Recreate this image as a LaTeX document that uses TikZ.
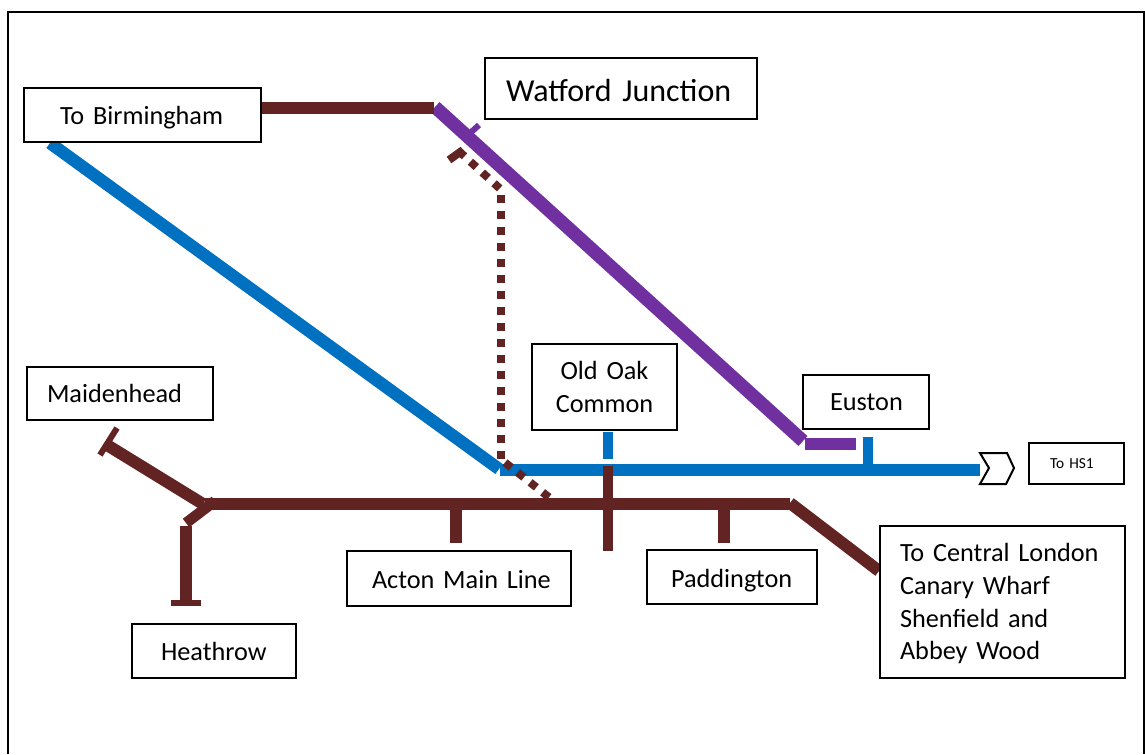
\documentclass[tikz,border=0pt]{standalone}
\usepackage{fontspec}
\setmainfont{Carlito}
\definecolor{railbrown}{HTML}{622423}
\definecolor{railblue}{HTML}{0070C0}
\definecolor{railpurple}{HTML}{7030A0}
\newcommand{\lowertext}[1]{\rule{0pt}{#1}}
\tikzset{
  stn/.style n args={3}{draw=black, line width=1.5pt, inner xsep=0pt, inner ysep=0pt,
    text width=#1*0.75pt, minimum height=#2*0.75pt, align=left, fill=white,
    execute at begin node={\leftskip=0.75\dimexpr #3pt\relax},
    font=\fontsize{19.7}{24.5}\selectfont},
  brownline/.style={draw=railbrown, line width=9pt},
  blueline/.style={draw=railblue, line width=9.3pt},
  purpleline/.style={draw=railpurple, line width=10pt},
  tickline/.style={line width=4.5pt},
  dotline/.style={draw=railbrown, line width=6pt, dash pattern=on 6pt off 6pt},
}
\begin{document}
\begin{tikzpicture}[x=0.75pt,y=-0.75pt]
\useasboundingbox (0,0) rectangle (1145,754);
\draw[line width=1.5pt] (8,754) -- (8,12) -- (1144,12) -- (1144,754);

% coordinates (free ends)
\coordinate (bhamEnd) at (50,143);
\coordinate (blueKnee) at (499,469);
\coordinate (blueStart) at (500,469.5);
\coordinate (blueEnd) at (980,469.5);
\coordinate (bhamRail) at (255,108);
\coordinate (topRail) at (434,108);
\coordinate (purpleTop) at (435,107);
\coordinate (purpleEnd) at (803,441);
\coordinate (eustonA) at (805,444);
\coordinate (eustonB) at (856,444);
\coordinate (eustonC) at (868,437);
\coordinate (eustonD) at (868,466);
\coordinate (oakA) at (608,432);
\coordinate (oakB) at (608,459);
\coordinate (oakC) at (608,466);
\coordinate (oakD) at (608,551);
\coordinate (mainL) at (205,504);
\coordinate (mainR) at (790,504);
\coordinate (clEnd) at (879,571);
\coordinate (clStart) at (790,503);
\coordinate (maidEnd) at (107,445);
\coordinate (maidJ) at (203,504);
\coordinate (maidT1) at (100,455);
\coordinate (maidT2) at (117,428);
\coordinate (hJ) at (215,501);
\coordinate (hK) at (186,523);
\coordinate (hTop) at (186,526);
\coordinate (hBot) at (186,601);
\coordinate (hT1) at (171,603);
\coordinate (hT2) at (201,603);
\coordinate (acA) at (456,508);
\coordinate (acB) at (456,543);
\coordinate (paA) at (724,508);
\coordinate (paB) at (724,543);
\coordinate (wjA) at (468,135);
\coordinate (wjB) at (479,125);
\coordinate (dT1) at (449,160);
\coordinate (dT2) at (463,150);
\coordinate (dA) at (458.6,150.9);
\coordinate (dB) at (499.7,188.4);
\coordinate (dC) at (500.5,195);
\coordinate (dD) at (500.5,459);
\coordinate (dE) at (505,462.5);
\coordinate (dF) at (549.2,497.5);

% blue
\draw[blueline] (bhamEnd) -- (blueKnee);
\draw[blueline, line width=9pt] (blueStart) -- (blueEnd);
\draw[blueline, line width=8pt] (oakA) -- (oakB);
\draw[blueline, line width=8pt] (eustonC) -- (eustonD);

% purple
\draw[purpleline] (purpleTop) -- (purpleEnd);
\draw[purpleline, line width=8.5pt] (eustonA) -- (eustonB);
\draw[draw=railpurple, tickline] (wjA) -- (wjB);

% brown
\draw[brownline] (bhamRail) -- (topRail);
\draw[brownline] (mainL) -- (mainR);
\draw[brownline] (clStart) -- (clEnd);
\draw[brownline] (maidEnd) -- (maidJ);
\draw[draw=railbrown, tickline] (maidT1) -- (maidT2);
\draw[brownline, line width=8pt] (hJ) -- (hK);
\draw[brownline] (hTop) -- (hBot);
\draw[draw=railbrown, tickline] (hT1) -- (hT2);
\draw[brownline, line width=8pt] (oakC) -- (oakD);
\draw[brownline] (acA) -- (acB);
\draw[brownline] (paA) -- (paB);

% dotted
\draw[draw=railbrown, line width=6pt] (dT1) -- (dT2);
\draw[dotline] (dA) -- (dB);
\draw[dotline] (dC) -- (dD);
\draw[dotline] (dE) -- (dF);

% chevron
\draw[line width=1.5pt, fill=white] (980,453) -- (1007,453) -- (1014,468) -- (1006,484) -- (980,484) -- (989,468) -- cycle;

% boxes
\node[stn={237}{54}{36}] (bham) at (142.5,115) {\lowertext{17pt}To Birmingham};
\node[stn={272}{61}{21}, font=\fontsize{24}{29}\selectfont] (wj) at (621,88.5) {\lowertext{19.5pt}Watford Junction};
\node[stn={186}{53}{20}] (maid) at (120,393.5) {Maidenhead};
\node[stn={145}{86}{0}] (oak) at (604.5,387) {{\centering Old Oak\\Common\par}};
\node[stn={126}{54}{27}] (euston) at (866,402) {Euston};
\node[stn={95}{41}{21}, font=\fontsize{11.5}{13}\selectfont] (hs1) at (1076.5,463.5) {To HS1};
\node[stn={224}{55}{25}] (acton) at (459,578) {\lowertext{16.5pt}Acton Main Line};
\node[stn={170}{54}{24}] (padd) at (732,577) {\lowertext{18.5pt}Paddington};
\node[stn={164}{54}{29}] (heath) at (214,651) {Heathrow};
\node[stn={245}{152}{20}] (cl) at (1002.5,602) {\lowertext{16.5pt}To Central London\\Canary Wharf\\Shenfield and\\Abbey Wood};
\end{tikzpicture}
\end{document}
